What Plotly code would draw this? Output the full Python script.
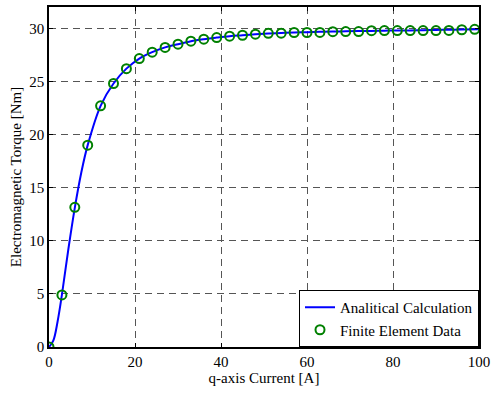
import plotly.graph_objects as go

# Finite element data
fe_current = [0, 3, 6, 9, 12, 15, 18, 21, 24, 27, 30, 33, 36, 39, 42, 45, 48, 51,
              54, 57, 60, 63, 66, 69, 72, 75, 78, 81, 84, 87, 90, 93, 96, 99]
fe_torque = [0.0, 4.9, 13.15, 19.0, 22.7, 24.8, 26.2, 27.15, 27.75, 28.2, 28.5, 28.78,
             28.97, 29.12, 29.25, 29.34, 29.44, 29.52, 29.54, 29.6, 29.6, 29.61,
             29.68, 29.69, 29.69, 29.77, 29.78, 29.78, 29.78, 29.78, 29.78, 29.79,
             29.86, 29.9]

# Analytical calculation
an_current = [0, 1, 2, 3, 4.5, 6, 7.5, 9, 12, 15, 18, 21, 24, 27, 30, 33, 36, 39, 42,
              45, 48, 51, 54, 57, 60, 63, 66, 69, 72, 75, 78, 81, 84, 87, 90, 93, 96, 100]
an_torque = [0.0, 0.6, 2.4, 4.9, 9.2, 13.1, 16.4, 19.0, 22.7, 24.8, 26.2, 27.15, 27.75,
             28.2, 28.5, 28.78, 28.97, 29.12, 29.25, 29.34, 29.43, 29.5, 29.55, 29.6,
             29.63, 29.66, 29.69, 29.71, 29.73, 29.75, 29.77, 29.79, 29.8, 29.82,
             29.84, 29.86, 29.88, 29.9]

font = "Liberation Serif"

fig = go.Figure()
fig.add_trace(go.Scatter(x=an_current, y=an_torque, mode="lines",
                         name="Analitical Calculation",
                         line=dict(color="#0000ff", width=2, shape="spline")))
fig.add_trace(go.Scatter(x=fe_current, y=fe_torque, mode="markers",
                         name="Finite Element Data",
                         marker=dict(symbol="circle-open", size=9,
                                     color="#008000", line=dict(width=2, color="#008000"))))

axis_common = dict(showline=True, linecolor="black", linewidth=1.5, mirror="ticks",
                   ticks="inside", ticklen=4, tickcolor="black",
                   showgrid=True, gridcolor="#555555", griddash="7px,5px", gridwidth=1,
                   zeroline=False, ticklabeloverflow="allow",
                   tickfont=dict(family=font, size=15, color="black"))

fig.update_layout(
    width=495, height=394,
    margin=dict(l=49, r=11, t=5, b=47),
    paper_bgcolor="white", plot_bgcolor="white",
    font=dict(family=font, size=15, color="black"),
    xaxis=dict(range=[0, 100], dtick=20, ticklabelstandoff=0,
               title=dict(text="q-axis Current [A]", standoff=2,
                          font=dict(family=font, size=15)), **axis_common),
    yaxis=dict(range=[0, 32], dtick=5, ticklabelstandoff=0,
               title=dict(text="Electromagnetic Torque [Nm]", standoff=4,
                          font=dict(family=font, size=15)), **axis_common),
    legend=dict(x=1, y=0, xanchor="right", yanchor="bottom",
                bgcolor="white", bordercolor="black", borderwidth=1,
                font=dict(family=font, size=15), tracegroupgap=0,
                itemwidth=30),
    showlegend=True,
)

fig.write_html("out.html")
